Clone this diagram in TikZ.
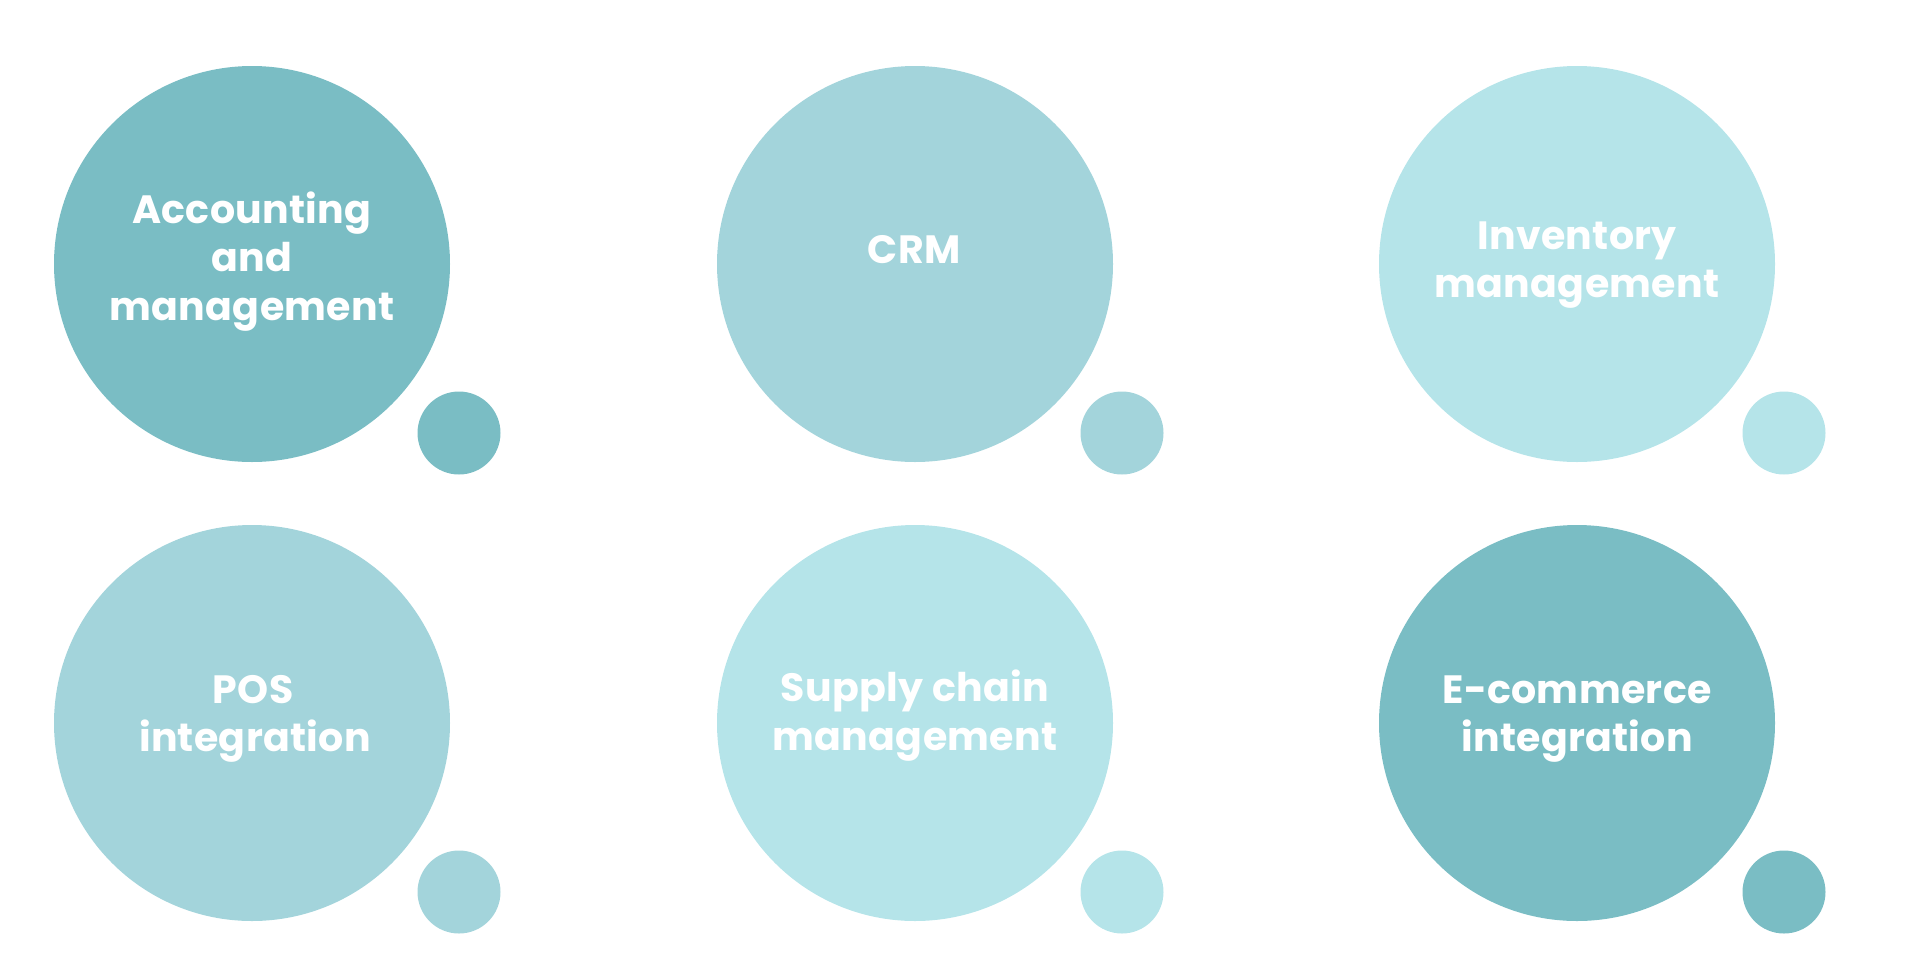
\documentclass[tikz,border=0pt]{standalone}
\usepackage{fontspec}
\setmainfont{Poppins}
\newfontfamily\labelfont{Poppins}[LetterSpace=0.8]
\definecolor{tealdark}{RGB}{122,189,196}
\definecolor{tealmid}{RGB}{163,212,219}
\definecolor{teallight}{RGB}{181,228,233}
\begin{document}
\begin{tikzpicture}[x=1pt,y=-1pt,
  bigc/.style={circle,minimum size=396pt,inner sep=0pt,draw=none,fill=#1},
  smallc/.style={circle,minimum size=83pt,inner sep=0pt,draw=none,fill=#1},
  lbl/.style={anchor=base,inner sep=0pt,text=white,font=\labelfont\bfseries\fontsize{39.5}{47}\selectfont}]
\useasboundingbox (0,0) rectangle (1920,978);
% row 1
\node[bigc=tealdark] (c1) at (252,264) {};
\node[smallc=tealdark] (s1) at (459,433) {};
\node[bigc=tealmid] (c2) at (915,264) {};
\node[smallc=tealmid] (s2) at (1122,433) {};
\node[bigc=teallight] (c3) at (1577,264) {};
\node[smallc=teallight] (s3) at (1784,433) {};
% row 2
\node[bigc=tealmid] (c4) at (252,723) {};
\node[smallc=tealmid] (s4) at (459,892) {};
\node[bigc=teallight] (c5) at (915,723) {};
\node[smallc=teallight] (s5) at (1122,892) {};
\node[bigc=tealdark] (c6) at (1577,723) {};
\node[smallc=tealdark] (s6) at (1784,892) {};
% labels
\node[lbl] (l1a) at (252,223) {Accounting};
\node[lbl] (l1b) at (252,271) {and};
\node[lbl] (l1c) at (252,320) {management};
\node[lbl] (l2a) at (914,263) {CRM};
\node[lbl] (l3a) at (1577,249) {Inventory};
\node[lbl] (l3b) at (1577,297) {management};
\node[lbl] (l4a) at (253,703) {POS};
\node[lbl] (l4b) at (255,751) {integration};
\node[lbl] (l5a) at (915,701) {Supply chain};
\node[lbl] (l5b) at (915,750) {management};
\node[lbl] (l6a) at (1577,703) {E-commerce};
\node[lbl] (l6b) at (1577,751) {integration};
\end{tikzpicture}
\end{document}
